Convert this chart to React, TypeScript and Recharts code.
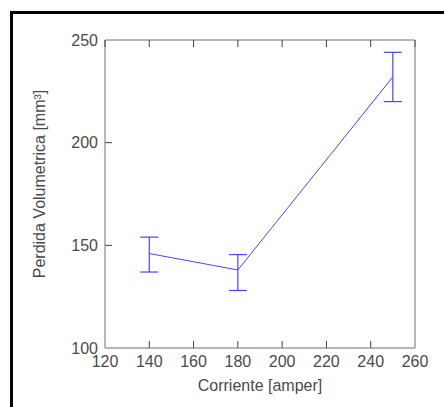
import { ErrorBar, Label, Line, LineChart, ReferenceLine, XAxis, YAxis } from 'recharts'

const corriente = [140, 180, 250]
const perdida = [146, 138, 232]
const errorInferior = [9, 10, 12]
const errorSuperior = [8, 7.5, 12]

const xTicks = [120, 140, 160, 180, 200, 220, 240, 260]
const yTicks = [100, 150, 200, 250]

const datos = corriente.map((c, i) => ({
    corriente: c,
    perdida: perdida[i],
    error: [errorInferior[i], errorSuperior[i]],
}))

const fuente = 'Arial, "Liberation Sans", sans-serif'
const gris = '#707070'
const marca = '#404040'
const texto = '#4a4a4a'
const azul = '#4646ee'

// largo de las marcas (~7px) en unidades de cada eje
const marcaX = 3.2
const marcaY = 3.4

const sinTexto = () => <g />

const App = () => {
    return (
        <div style={{ position: 'absolute', left: 0, top: 0, width: 444, height: 407, background: '#fff' }}>
            <div
                style={{
                    position: 'absolute',
                    left: 10,
                    top: 11,
                    width: 434,
                    height: 396,
                    borderTop: '3px solid #000',
                    borderLeft: '3px solid #000',
                    boxSizing: 'border-box',
                }}
            />
            <div style={{ position: 'absolute', left: 0, top: 0 }}>
                <LineChart width={444} height={407} data={datos} margin={{ top: 40, right: 29, bottom: 0, left: 0 }}>
                    <XAxis
                        dataKey='corriente'
                        type='number'
                        domain={[120, 260]}
                        ticks={xTicks}
                        height={59}
                        tickSize={0}
                        tickMargin={8}
                        axisLine={{ stroke: gris }}
                        tickLine={false}
                        tick={{ fontSize: 16, fill: texto, fontFamily: fuente }}
                        interval={0}
                    >
                        <Label
                            value='Corriente [amper]'
                            position='insideBottom'
                            offset={16}
                            style={{ fontSize: 16, fill: texto, fontFamily: fuente }}
                        />
                    </XAxis>
                    <YAxis
                        type='number'
                        domain={[100, 250]}
                        ticks={yTicks}
                        width={105}
                        tickSize={0}
                        tickMargin={7}
                        axisLine={{ stroke: gris }}
                        tickLine={false}
                        tick={{ fontSize: 16, fill: texto, fontFamily: fuente }}
                        interval={0}
                    >
                        <Label
                            content={() => (
                                <text
                                    x={39}
                                    y={184}
                                    transform='rotate(-90, 39, 184)'
                                    textAnchor='middle'
                                    dominantBaseline='central'
                                    style={{ fontSize: 16, fill: texto, fontFamily: fuente }}
                                >
                                    Perdida Volumetrica [mm³]
                                </text>
                            )}
                        />
                    </YAxis>
                    <XAxis
                        xAxisId='arriba'
                        dataKey='corriente'
                        orientation='top'
                        mirror
                        type='number'
                        domain={[120, 260]}
                        allowDataOverflow
                        ticks={xTicks}
                        height={20}
                        tickSize={7}
                        tick={sinTexto}
                        axisLine={{ stroke: gris }}
                        tickLine={{ stroke: marca }}
                        interval={0}
                    />
                    <YAxis
                        yAxisId='derecha'
                        orientation='right'
                        mirror
                        type='number'
                        domain={[100, 250]}
                        allowDataOverflow
                        width={20}
                        tick={false}
                        tickLine={false}
                        axisLine={{ stroke: gris }}
                    />
                    {/* marcas hacia adentro en los ejes inferior e izquierdo */}
                    {xTicks.slice(1, -1).map((t) => (
                        <ReferenceLine
                            key={'mx' + t}
                            segment={[
                                { x: t, y: 100 },
                                { x: t, y: 100 + marcaY },
                            ]}
                            stroke={marca}
                            ifOverflow='visible'
                        />
                    ))}
                    {yTicks.slice(1, -1).map((t) => (
                        <ReferenceLine
                            key={'my' + t}
                            segment={[
                                { x: 120, y: t },
                                { x: 120 + marcaX, y: t },
                            ]}
                            stroke={marca}
                            ifOverflow='visible'
                        />
                    ))}
                    {/* serie invisible para que el eje superior tenga escala */}
                    <Line
                        xAxisId='arriba'
                        dataKey='perdida'
                        stroke='none'
                        dot={false}
                        activeDot={false}
                        legendType='none'
                        isAnimationActive={false}
                    />
                    <Line
                        type='linear'
                        dataKey='perdida'
                        stroke={azul}
                        strokeWidth={1}
                        dot={false}
                        isAnimationActive={false}
                    >
                        <ErrorBar dataKey='error' width={9} stroke={azul} strokeWidth={1.2} direction='y' isAnimationActive={false} />
                    </Line>
                </LineChart>
            </div>
        </div>
    )
}

export default App
